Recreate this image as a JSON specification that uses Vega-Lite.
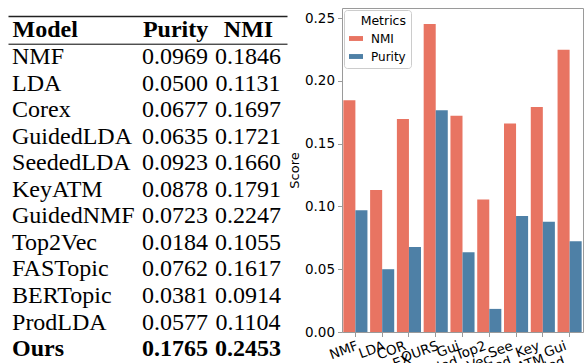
{
  "$schema": "https://vega.github.io/schema/vega-lite/v6.json",
  "background": "white",
  "padding": {"left": 8, "top": 7, "right": 0, "bottom": 0},
  "bounds": "flush",
  "spacing": 55,
  "resolve": {"legend": {"color": "independent"}},
  "config": {"view": {"stroke": null}, "font": "DejaVu Sans"},
  "datasets": {
    "table": [
      {"Model": "NMF", "Purity": 0.0969, "NMI": 0.1846},
      {"Model": "LDA", "Purity": 0.0500, "NMI": 0.1131},
      {"Model": "Corex", "Purity": 0.0677, "NMI": 0.1697},
      {"Model": "GuidedLDA", "Purity": 0.0635, "NMI": 0.1721},
      {"Model": "SeededLDA", "Purity": 0.0923, "NMI": 0.1660},
      {"Model": "KeyATM", "Purity": 0.0878, "NMI": 0.1791},
      {"Model": "GuidedNMF", "Purity": 0.0723, "NMI": 0.2247},
      {"Model": "Top2Vec", "Purity": 0.0184, "NMI": 0.1055},
      {"Model": "FASTopic", "Purity": 0.0762, "NMI": 0.1617},
      {"Model": "BERTopic", "Purity": 0.0381, "NMI": 0.0914},
      {"Model": "ProdLDA", "Purity": 0.0577, "NMI": 0.1104},
      {"Model": "Ours", "Purity": 0.1765, "NMI": 0.2453}
    ],
    "scores": [
      {"model": "NMF", "metric": "NMI", "score": 0.1846},
      {"model": "NMF", "metric": "Purity", "score": 0.0969},
      {"model": "LDA", "metric": "NMI", "score": 0.1131},
      {"model": "LDA", "metric": "Purity", "score": 0.0500},
      {"model": "COR\nEX", "metric": "NMI", "score": 0.1697},
      {"model": "COR\nEX", "metric": "Purity", "score": 0.0677},
      {"model": "OURS", "metric": "NMI", "score": 0.2453},
      {"model": "OURS", "metric": "Purity", "score": 0.1765},
      {"model": "Gui\nded_\nLDA", "metric": "NMI", "score": 0.1721},
      {"model": "Gui\nded_\nLDA", "metric": "Purity", "score": 0.0635},
      {"model": "Top2\nVec", "metric": "NMI", "score": 0.1055},
      {"model": "Top2\nVec", "metric": "Purity", "score": 0.0184},
      {"model": "See\nded_\nLDA", "metric": "NMI", "score": 0.1660},
      {"model": "See\nded_\nLDA", "metric": "Purity", "score": 0.0923},
      {"model": "Key\nATM", "metric": "NMI", "score": 0.1791},
      {"model": "Key\nATM", "metric": "Purity", "score": 0.0878},
      {"model": "Gui\nded_\nNMF", "metric": "NMI", "score": 0.2247},
      {"model": "Gui\nded_\nNMF", "metric": "Purity", "score": 0.0723}
    ]
  },
  "hconcat": [
    {
      "width": 279,
      "height": 371.3,
      "data": {"name": "table"},
      "layer": [
        {
          "encoding": {
            "y": {"field": "Model", "type": "nominal", "sort": null, "scale": {"type": "band", "paddingInner": 0, "paddingOuter": 1, "align": 0.8115}, "axis": null}
          },
          "layer": [
            {
              "transform": [{"filter": "datum.Model != 'Ours'"}],
              "mark": {"type": "text", "align": "left", "baseline": "alphabetic", "font": "Liberation Serif", "fontSize": 24, "color": "black", "dx": -90},
              "encoding": {
                "x": {"datum": "Model", "type": "nominal",
                  "scale": {"type": "point", "domain": ["Model", "Purity", "NMI"], "padding": 0.911, "align": 0.707},
                  "axis": {"orient": "top", "offset": -35.7, "title": null, "ticks": false, "tickSize": 0, "labelPadding": 7.7, "labelAngle": 0,
                    "labelBaseline": "alphabetic", "labelFont": "Liberation Serif", "labelFontSize": 24, "labelFontWeight": "bold", "labelColor": "black",
                    "labelAlign": {"condition": {"test": "datum.value == 'Model'", "value": "left"}, "value": "center"},
                    "labelOffset": {"condition": {"test": "datum.value == 'Model'", "value": -90}, "value": 0},
                    "labelOverlap": false, "labelBound": false, "labelFlush": false,
                    "domain": true, "domainColor": "black", "domainWidth": 1, "grid": false}},
                "text": {"field": "Model"}
              }
            },
            {
              "transform": [{"filter": "datum.Model == 'Ours'"}],
              "mark": {"type": "text", "align": "left", "baseline": "alphabetic", "font": "Liberation Serif", "fontSize": 24, "fontWeight": "bold", "color": "black", "dx": -90},
              "encoding": {
                "x": {"datum": "Model", "type": "nominal"},
                "text": {"field": "Model"}
              }
            },
            {
              "transform": [{"filter": "datum.Model != 'Ours'"}, {"fold": ["Purity", "NMI"], "as": ["metric", "value"]}],
              "mark": {"type": "text", "align": "center", "baseline": "alphabetic", "font": "Liberation Serif", "fontSize": 24, "color": "black"},
              "encoding": {
                "x": {"field": "metric", "type": "nominal"},
                "text": {"field": "value", "type": "quantitative", "format": ".4f"}
              }
            },
            {
              "transform": [{"filter": "datum.Model == 'Ours'"}, {"fold": ["Purity", "NMI"], "as": ["metric", "value"]}],
              "mark": {"type": "text", "align": "center", "baseline": "alphabetic", "font": "Liberation Serif", "fontSize": 24, "fontWeight": "bold", "color": "black"},
              "encoding": {
                "x": {"field": "metric", "type": "nominal"},
                "text": {"field": "value", "type": "quantitative", "format": ".4f"}
              }
            }
          ]
        },
        {
          "mark": {"type": "text"},
          "encoding": {
            "x": {"field": "Purity", "type": "quantitative",
              "axis": {"orient": "top", "offset": -8, "title": null, "labels": false, "ticks": false, "tickSize": 0, "grid": false,
                "domain": true, "domainColor": "#222", "domainWidth": 1.5}},
            "text": {"value": ""}
          }
        }
      ],
      "resolve": {"scale": {"x": "independent"}, "axis": {"x": "independent"}}
    },
    {
      "width": 241,
      "height": 324,
      "view": {"stroke": "#9a9a9a", "strokeWidth": 1},
      "data": {"name": "scores"},
      "mark": {"type": "bar"},
      "encoding": {
        "x": {"field": "model", "type": "nominal", "sort": null,
          "scale": {"paddingInner": 0.1, "paddingOuter": 0.05},
          "axis": {"title": null, "labelAngle": -20, "labelAlign": "right", "labelBaseline": "top", "labelPadding": 2,
            "labelFontSize": 13.5, "labelColor": "black", "labelLineHeight": 14, "labelExpr": "split(datum.label, '\\n')",
            "labelOffset": {"condition": {"test": "indexof(datum.value, '\\n') >= 0", "value": -6}, "value": 0},
            "tickSize": 4.5, "tickColor": "#9a9a9a", "domain": false, "labelOverlap": false, "labelBound": false}},
        "xOffset": {"field": "metric", "type": "nominal", "scale": {"domain": ["NMI", "Purity"]}},
        "y": {"field": "score", "type": "quantitative",
          "scale": {"domain": [0, 0.258], "nice": false},
          "axis": {"title": "Score", "titleFontSize": 13, "titleFontWeight": "normal", "titleColor": "black", "titlePadding": 3,
            "values": [0, 0.05, 0.1, 0.15, 0.2, 0.25], "format": ".2f", "labelFontSize": 13.5, "labelColor": "black",
            "tickSize": 4.5, "tickColor": "#9a9a9a", "domain": false, "grid": false, "labelPadding": 3}},
        "color": {"field": "metric", "type": "nominal",
          "scale": {"domain": ["NMI", "Purity"], "range": ["#e87462", "#4e80a6"]},
          "legend": {"title": "Metrics", "orient": "top-left", "offset": 2, "fillColor": "white", "strokeColor": "#cccccc",
            "cornerRadius": 3, "padding": 5, "titleFontWeight": "normal", "titleFontSize": 12.5, "titleColor": "black",
            "titleAnchor": "end", "titlePadding": 4, "labelFontSize": 12, "labelColor": "black", "labelOffset": 8,
            "symbolType": "M-1,-0.35L1,-0.35L1,0.35L-1,0.35Z", "symbolSize": 196, "symbolStrokeWidth": 0, "symbolOpacity": 1,
            "rowPadding": 5}}
      }
    }
  ]
}
